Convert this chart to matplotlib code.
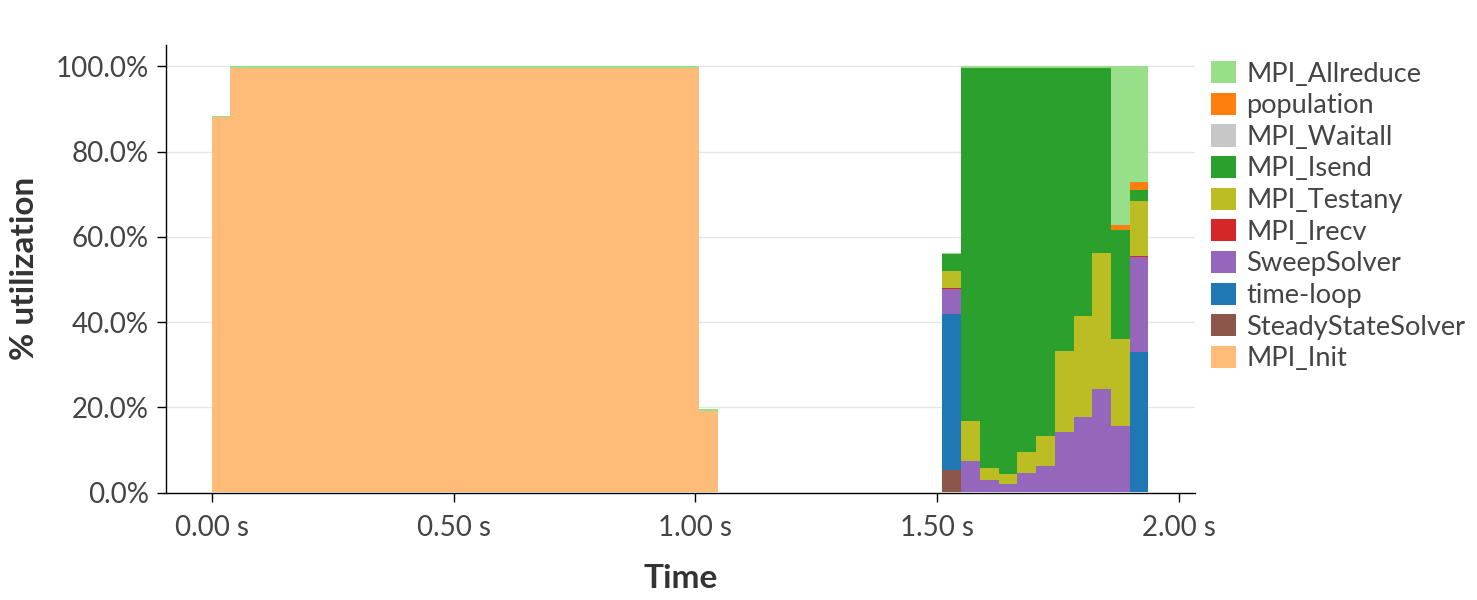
import numpy as np
import matplotlib
matplotlib.use("Agg")
import matplotlib.pyplot as plt
from matplotlib.patches import Patch

plt.rcParams['font.family'] = ['Lato', 'DejaVu Sans']

# ---- data: % utilization per time bin (50 bins starting at 0 s) ----
bin_width = 0.038726  # seconds per bin
n_bins = 50

series_names = ["MPI_Init", "SteadyStateSolver", "time-loop", "SweepSolver",
                "MPI_Irecv", "MPI_Testany", "MPI_Isend", "MPI_Waitall",
                "population", "MPI_Allreduce"]
series_colors = ["#ffbb78", "#8c564b", "#1f77b4", "#9467bd", "#d62728",
                 "#bcbd22", "#2ca02c", "#c7c7c7", "#ff7f0e", "#98df8a"]

Z12 = [0, 0, 0, 0, 0, 0, 0, 0, 0, 0, 0, 0]  # bins 27..38 are empty

MPI_Init = [88.0, 99.6, 99.6, 99.6, 99.6, 99.6, 99.6, 99.6, 99.6, 99.6,
            99.6, 99.6, 99.6, 99.6, 99.6, 99.6, 99.6, 99.6, 99.6, 99.6,
            99.6, 99.6, 99.6, 99.6, 99.6, 99.6, 19.1] + Z12 + \
           [0, 0, 0, 0, 0, 0, 0, 0, 0, 0, 0]
SteadyStateSolver = [0] * 27 + Z12 + [5.3, 0, 0, 0, 0, 0, 0, 0, 0, 0, 0]
time_loop = [0] * 27 + Z12 + [36.6, 0, 0, 0, 0, 0, 0, 0, 0, 0, 32.9]
SweepSolver = [0] * 27 + Z12 + [5.8, 7.5, 3.0, 1.9, 4.5, 6.3, 14.2, 17.8, 24.4, 15.6, 22.4]
MPI_Irecv = [0] * 27 + Z12 + [0.4, 0, 0, 0, 0, 0, 0, 0, 0, 0, 0.2]
MPI_Testany = [0] * 27 + Z12 + [3.9, 9.2, 2.7, 2.5, 5.0, 6.9, 19.0, 23.7, 31.9, 20.4, 12.9]
MPI_Isend = [0] * 27 + Z12 + [3.9, 83.0, 94.0, 95.3, 90.2, 86.5, 66.5, 58.2, 43.4, 25.7, 2.5]
MPI_Waitall = [0] * 27 + Z12 + [0, 0, 0, 0, 0, 0, 0, 0, 0, 0, 0]
population = [0] * 27 + Z12 + [0, 0, 0, 0, 0, 0, 0, 0, 0, 1.0, 1.9]
MPI_Allreduce = [0.4] * 27 + Z12 + [0.3, 0.3, 0.3, 0.3, 0.3, 0.3, 0.3, 0.3, 0.3, 37.3, 27.2]

series_values = [MPI_Init, SteadyStateSolver, time_loop, SweepSolver, MPI_Irecv,
                 MPI_Testany, MPI_Isend, MPI_Waitall, population, MPI_Allreduce]

x_ticks = [0.0, 0.5, 1.0, 1.5, 2.0]
x_tick_labels = ["0.00 s", "0.50 s", "1.00 s", "1.50 s", "2.00 s"]
y_ticks = [0, 20, 40, 60, 80, 100]
y_tick_labels = ["0.0%", "20.0%", "40.0%", "60.0%", "80.0%", "100.0%"]

# ---- figure ----
fig = plt.figure(figsize=(14.77, 6.0), dpi=100)
ax = fig.add_axes([166 / 1477, 1 - 492.5 / 600, (1195 - 166) / 1477, (492.5 - 45) / 600])

edges = np.arange(n_bins + 1) * bin_width
base = np.zeros(n_bins)
for name, vals, col in zip(series_names, series_values, series_colors):
    v = np.asarray(vals, dtype=float)
    top = base + v
    ax.fill_between(edges, np.append(base, base[-1]), np.append(top, top[-1]),
                    step='post', color=col, linewidth=0, zorder=2)
    base = top

ax.set_xlim(-0.0945, 2.0325)
ax.set_ylim(0, 105)

ax.set_xticks(x_ticks)
ax.set_xticklabels(x_tick_labels)
ax.set_yticks(y_ticks)
ax.set_yticklabels(y_tick_labels)

for s in ['top', 'right']:
    ax.spines[s].set_visible(False)
for s in ['left', 'bottom']:
    ax.spines[s].set_linewidth(1.0)
    ax.spines[s].set_color('black')

ax.tick_params(axis='both', length=6.5, width=1.0, color='black',
               labelsize=20, labelcolor='#444444')
ax.tick_params(axis='x', pad=10)
ax.tick_params(axis='y', pad=6)

ax.yaxis.grid(True, color='#e6e6e6', linewidth=1.0, zorder=0)
ax.set_axisbelow(True)

ax.set_xlabel("Time", fontsize=24, fontweight='bold', color='#333333', labelpad=16)
ax.set_ylabel("% utilization", fontsize=24, fontweight='bold', color='#333333', labelpad=12)

handles = [Patch(facecolor=c, edgecolor='none') for c in series_colors[::-1]]
leg = fig.legend(handles, series_names[::-1], loc='upper left',
                 bbox_to_anchor=(1211 / 1477, 1 - 61 / 600),
                 frameon=False, fontsize=19.6, handlelength=0.92, handleheight=0.88,
                 handletextpad=0.38, labelspacing=0.225, borderaxespad=0, borderpad=0)
for t in leg.get_texts():
    t.set_color('#444444')

fig.savefig("out.png", dpi=100)
